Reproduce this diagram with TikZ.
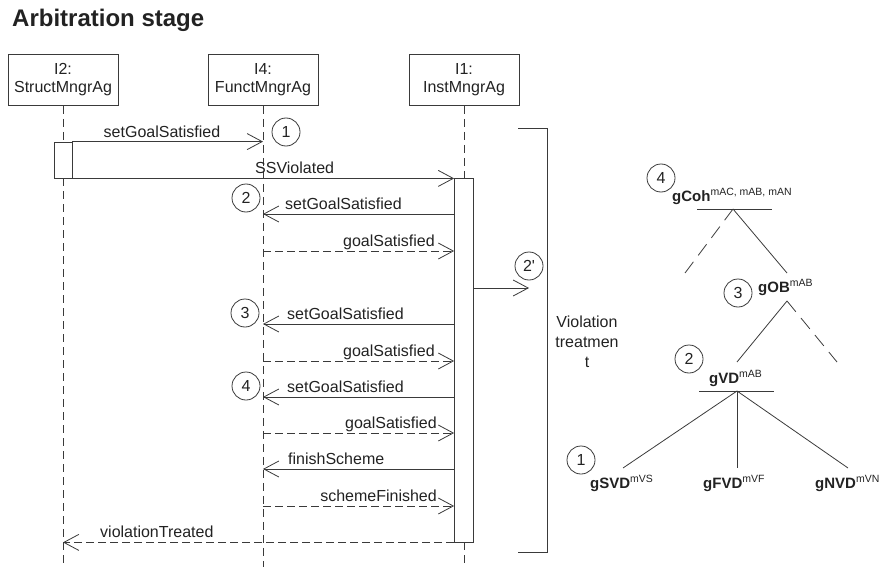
\documentclass[tikz,border=0pt]{standalone}
\usepackage{fontspec}
\setmainfont{Liberation Sans}
\usetikzlibrary{arrows.meta}
\definecolor{ink}{HTML}{222222}
\definecolor{linecol}{HTML}{3A3A3A}
% superscript tag on a goal name
\newcommand\goalsup[1]{\raisebox{6pt}{\fontsize{10.5}{12}\selectfont\mdseries #1}}

\begin{document}
\begin{tikzpicture}[x=1pt,y=-1pt,
  every node/.style={font=\fontsize{16}{18}\selectfont, text=ink},
  objbox/.style={draw=linecol, line width=0.8pt, minimum width=110pt,
    minimum height=51pt, align=center, inner sep=0pt},
  lifeline/.style={draw=linecol, line width=0.8pt, dash pattern=on 8pt off 5pt},
  actbar/.style={draw=linecol, line width=0.8pt, fill=white, inner sep=0pt},
  msg/.style={draw=linecol, line width=0.8pt,
    -{Straight Barb[length=15pt,width=16pt]}},
  reply/.style={msg, dash pattern=on 8pt off 4pt},
  lbl/.style={inner sep=0pt},
  stepnum/.style={circle, draw=linecol, line width=0.8pt, minimum size=28pt,
    inner sep=0pt},
  goal/.style={inner sep=0pt, anchor=base west, font=\fontsize{15}{18}\selectfont\bfseries},
  treeline/.style={draw=linecol, line width=0.8pt},
  treedash/.style={treeline, dash pattern=on 14pt off 8pt}]

\useasboundingbox (0,0) rectangle (883,567);

% title
\node[anchor=base west, inner sep=0pt, font=\fontsize{24}{28}\selectfont\bfseries]
  (title) at (12,27) {Arbitration stage};

% objects
\node[objbox] (i2) at (63,80) {I2:\\StructMngrAg};
\node[objbox] (i4) at (263,80) {I4:\\FunctMngrAg};
\node[objbox] (i1) at (464,80) {I1:\\InstMngrAg};
\coordinate (bottom) at (0,567);

% activation bars
\node[actbar, minimum width=18pt, minimum height=36pt] (b2) at (63,160) {};
\node[actbar, minimum width=19pt, minimum height=364pt] (b1) at (464,360) {};

% lifelines
\draw[lifeline] (i2.south) -- (b2.north);
\draw[lifeline] (b2.south) -- (b2.south |- bottom);
\draw[lifeline] (i4.south) -- (i4.south |- bottom);
\draw[lifeline] (i1.south) -- (b1.north);
\draw[lifeline] (b1.south) -- (b1.south |- bottom);

% message rows
\coordinate (r2) at (0,214);
\coordinate (r2g) at (0,251);
\coordinate (r2p) at (0,288);
\coordinate (r3) at (0,324);
\coordinate (r3g) at (0,361);
\coordinate (r4) at (0,397);
\coordinate (r4g) at (0,433);
\coordinate (rfs) at (0,469);
\coordinate (rsf) at (0,506);
\coordinate (rvt) at (0,542);
\coordinate (twoend) at (529,288);

% messages
\draw[msg] (b2.north east) -- (b2.north east -| i4.south);
\draw[msg] (b2.south east) -- (b2.south east -| b1.west);
\draw[msg] (b1.west |- r2) -- (i4.south |- r2);
\draw[reply] (i4.south |- r2g) -- (b1.west |- r2g);
\draw[msg] (b1.east |- r2p) -- (twoend);
\draw[msg] (b1.west |- r3) -- (i4.south |- r3);
\draw[reply] (i4.south |- r3g) -- (b1.west |- r3g);
\draw[msg] (b1.west |- r4) -- (i4.south |- r4);
\draw[reply] (i4.south |- r4g) -- (b1.west |- r4g);
\draw[msg] (b1.west |- rfs) -- (i4.south |- rfs);
\draw[reply] (i4.south |- rsf) -- (b1.west |- rsf);
\draw[reply] (b1.south west) -- (b1.south west -| i2.south);

% message labels
\node[lbl, anchor=base] (l1) at (162,137) {setGoalSatisfied};
\node[lbl, anchor=base west] (lss) at (255,173) {SSViolated};
\node[lbl, anchor=base west] (l2) at (285,209) {setGoalSatisfied};
\node[lbl, anchor=base east] (g2) at (435,246) {goalSatisfied};
\node[lbl, anchor=base west] (l3) at (287,319) {setGoalSatisfied};
\node[lbl, anchor=base east] (g3) at (435,356) {goalSatisfied};
\node[lbl, anchor=base west] (l4) at (287,392) {setGoalSatisfied};
\node[lbl, anchor=base east] (g4) at (437,428) {goalSatisfied};
\node[lbl, anchor=base west] (fs) at (288,464) {finishScheme};
\node[lbl, anchor=base east] (sf) at (437,501) {schemeFinished};
\node[lbl, anchor=base west] (vt) at (100,537) {violationTreated};

% step numbers on the sequence
\node[stepnum] (n1) at (286,132) {1};
\node[stepnum] (n2) at (246,198) {2};
\node[stepnum] (n2p) at (529,266) {2\textquotesingle};
\node[stepnum] (n3) at (245,313) {3};
\node[stepnum] (n4) at (246,386) {4};

% bracket around the violation treatment
\draw[treeline] (518,128) -- (547,128) -- (547,552) -- (518,552);
\node[align=center, font=\fontsize{16}{20}\selectfont] (viol) at (587,342)
  {Violation\\treatmen\\t};

% goal tree
\node[goal] (gcoh) at (672,201) {gCoh\goalsup{mAC, mAB, mAN}};
\node[goal] (gob) at (758,292) {gOB\goalsup{mAB}};
\node[goal] (gvd) at (709,383) {gVD\goalsup{mAB}};
\node[goal] (gsvd) at (590,488) {gSVD\goalsup{mVS}};
\node[goal] (gfvd) at (703,488) {gFVD\goalsup{mVF}};
\node[goal] (gnvd) at (815,488) {gNVD\goalsup{mVN}};

\node[stepnum] (t4) at (661,178) {4};
\node[stepnum] (t3) at (738,293) {3};
\node[stepnum] (t2) at (689,359) {2};
\node[stepnum] (t1) at (581,460) {1};

\coordinate (cohapex) at (733,209);
\coordinate (cohleft) at (685,273);
\coordinate (obtop) at (787,273);
\coordinate (obapex) at (787,301);
\coordinate (vdtop) at (737,362);
\coordinate (obright) at (837,362);
\coordinate (vdapex) at (737,391);
\coordinate (svdtop) at (623,468);
\coordinate (fvdtop) at (737,468);
\coordinate (nvdtop) at (848,468);

\draw[treeline] (697,209) -- (772,209);
\draw[treeline] (cohapex) -- (obtop);
\draw[treedash] (cohapex) -- (cohleft);
\draw[treeline] (obapex) -- (vdtop);
\draw[treedash] (obapex) -- (obright);
\draw[treeline] (699,391) -- (774,391);
\draw[treeline] (vdapex) -- (svdtop);
\draw[treeline] (vdapex) -- (fvdtop);
\draw[treeline] (vdapex) -- (nvdtop);
\end{tikzpicture}
\end{document}
